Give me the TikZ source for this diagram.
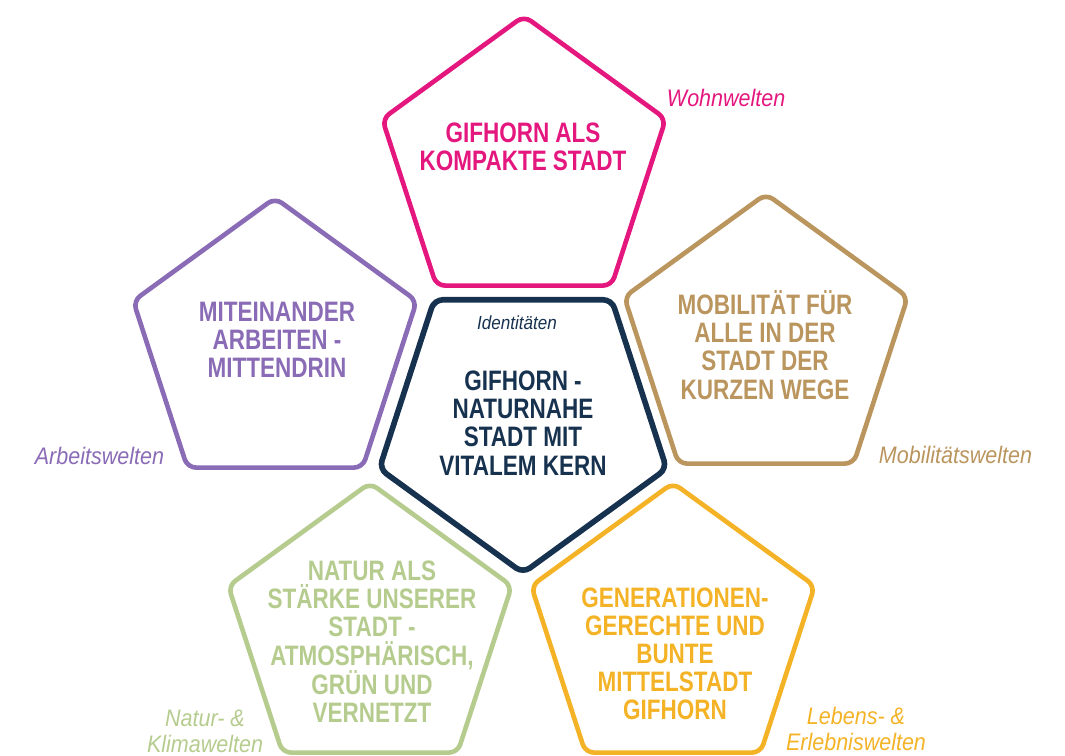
\documentclass[tikz,border=0pt]{standalone}
\usepackage{fontspec}
\setmainfont{Liberation Sans}[FakeStretch=0.8]
\newfontfamily\weltfont{Liberation Sans}[FakeStretch=0.9]
\usetikzlibrary{shapes.geometric}
\definecolor{wohnpink}{HTML}{E4177F}
\definecolor{arbeitlila}{HTML}{8A6BB5}
\definecolor{kernblau}{HTML}{17324F}
\definecolor{mobilbraun}{HTML}{BA955E}
\definecolor{naturgruen}{HTML}{B5CC8E}
\definecolor{lebengelb}{HTML}{F4B326}

\tikzset{
  feld/.style={regular polygon, regular polygon sides=5, draw=#1, line width=3.3pt,
    rounded corners=6pt, minimum size=7.45cm, inner sep=0pt},
  leitsatz/.style={text=#1, font=\bfseries\fontsize{20}{20}\selectfont, align=center},
  welt/.style={text=#1, font=\weltfont\itshape\fontsize{17}{18.5}\selectfont, align=center},
}

\begin{document}
\begin{tikzpicture}[x=0.025cm,y=-0.025cm]
  \useasboundingbox (0,0) rectangle (1065,756);
  % the six fields
  \node[feld=wohnpink] (wohnen) at (524,165) {};
  \node[feld=arbeitlila] (arbeit) at (275,347) {};
  \node[feld=kernblau, line width=4pt, minimum size=7.55cm, shape border rotate=180] (kern) at (523,422) {};
  \node[feld=mobilbraun] (mobil) at (766,343) {};
  \node[feld=naturgruen] (natur) at (370,632) {};
  \node[feld=lebengelb] (leben) at (673,632) {};

  % guiding statements
  \node[leitsatz=wohnpink] (wohnen-text) at (523,147) {GIFHORN ALS\\KOMPAKTE STADT};
  \node[leitsatz=arbeitlila] (arbeit-text) at (277,340) {MITEINANDER\\ARBEITEN -\\MITTENDRIN};
  \node[leitsatz=kernblau] (kern-text) at (523,423) {GIFHORN -\\NATURNAHE\\STADT MIT\\VITALEM KERN};
  \node[leitsatz=mobilbraun] (mobil-text) at (765,345) {MOBILITÄT FÜR\\ALLE IN DER\\STADT DER\\KURZEN WEGE};
  \node[leitsatz=naturgruen] (natur-text) at (372,642) {NATUR ALS\\STÄRKE UNSERER\\STADT -\\ATMOSPHÄRISCH,\\GRÜN UND\\VERNETZT};
  \node[leitsatz=lebengelb] (leben-text) at (675,654) {GENERATIONEN-\\GERECHTE UND\\BUNTE\\MITTELSTADT\\GIFHORN};

  % worlds
  \node[welt=kernblau, font=\weltfont\itshape\fontsize{13.5}{15}\selectfont] (identitaet) at (517,323) {Identitäten};
  \node[welt=wohnpink, anchor=west] (wohnwelt) at (662,98) {Wohnwelten};
  \node[welt=arbeitlila, anchor=east] (arbeitwelt) at (169,456) {Arbeitswelten};
  \node[welt=mobilbraun, anchor=west] (mobilwelt) at (874,455) {Mobilitätswelten};
  \node[welt=naturgruen] (naturwelt) at (205,731) {Natur- \&\\Klimawelten};
  \node[welt=lebengelb] (lebenwelt) at (856,729) {Lebens- \&\\Erlebniswelten};
\end{tikzpicture}
\end{document}
